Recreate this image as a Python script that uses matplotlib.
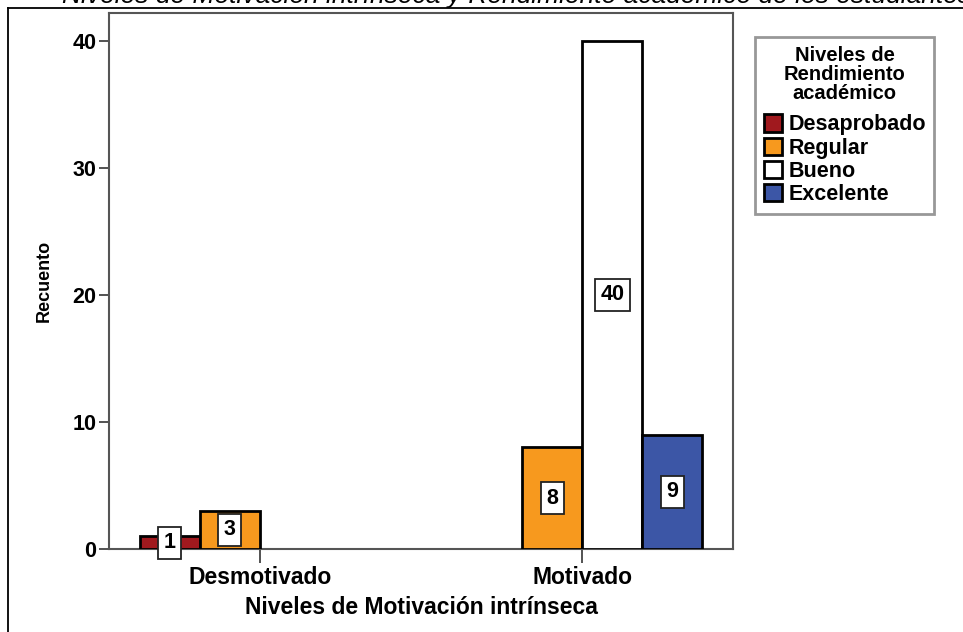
import matplotlib
matplotlib.use("Agg")
import matplotlib.pyplot as plt
from matplotlib.patches import Patch
from matplotlib.lines import Line2D
import numpy as np

# ---- data ----
categories = ["Desmotivado", "Motivado"]
series_names = ["Desaprobado", "Regular", "Bueno", "Excelente"]
desaprobado = [1, 0]
regular = [3, 8]
bueno = [0, 40]
excelente = [0, 9]
series_values = [desaprobado, regular, bueno, excelente]
series_colors = ["#a0191e", "#f7991e", "#ffffff", "#3c56a6"]
y_ticks = [0, 10, 20, 30, 40]

title_text = "Niveles de Motivación intrínseca y Rendimiento académico de los estudiantes"
x_label = "Niveles de Motivación intrínseca"
y_label = "Recuento"
legend_title = "Niveles de\nRendimiento\nacadémico"

plt.rcParams['font.family'] = ['Liberation Sans', 'DejaVu Sans']

W, H = 963, 632
fig = plt.figure(figsize=(W / 100, H / 100), dpi=100)
fig.patch.set_facecolor("white")

def px_x(x):
    return x / W

def px_y(y):
    return 1 - y / H

# axes rectangle (pixels)
L, R, T, B = 109, 733, 13, 549
ax = fig.add_axes([px_x(L), px_y(B), px_x(R) - px_x(L), px_y(T) - px_y(B)])

x = np.arange(len(categories))
bar_w = 0.186
offsets = (np.arange(len(series_names)) - (len(series_names) - 1) / 2) * bar_w

for i, (name, vals, col) in enumerate(zip(series_names, series_values, series_colors)):
    for j, v in enumerate(vals):
        if v <= 0:
            continue
        xpos = x[j] + offsets[i]
        ax.bar(xpos, v, width=bar_w, color=col, edgecolor="black",
               linewidth=2.0, zorder=3)
        ax.text(xpos, v / 2, str(v), ha="center", va="center",
                fontsize=15.5, fontweight="bold", zorder=5,
                bbox=dict(boxstyle="square,pad=0.25", facecolor="white",
                          edgecolor="#222222", linewidth=1.3),
                clip_on=False)

ax.set_xlim(-0.4675, 1.4675)
ax.set_ylim(0, 42.2)
ax.set_yticks(y_ticks)
ax.set_yticklabels([str(t) for t in y_ticks], fontsize=15.5, fontweight="bold")
ax.set_xticks(x)
ax.set_xticklabels(categories, fontsize=16.5, fontweight="bold")
ax.tick_params(axis="y", length=7, width=1.3, color="#444444", pad=2)
ax.tick_params(axis="x", length=10, width=1.3, color="#444444", pad=2)
for sp in ax.spines.values():
    sp.set_color("#555555")
    sp.set_linewidth(1.5)

ax.set_xlabel(x_label, fontsize=16.5, fontweight="bold", labelpad=5)
ax.set_ylabel(y_label, fontsize=13, fontweight="bold", labelpad=14)

# legend
handles = [Patch(facecolor=c, edgecolor="black", linewidth=2.0) for c in series_colors]
leg = fig.legend(handles, series_names, title=legend_title,
                 loc="upper left", bbox_to_anchor=(px_x(755), px_y(37)),
                 bbox_transform=fig.transFigure, borderaxespad=0,
                 frameon=True, fancybox=False, edgecolor="#7f7f7f",
                 prop=dict(size=15.5, weight="bold"),
                 title_fontproperties=dict(size=14.5, weight="bold"),
                 alignment="center",
                 handlelength=0.85, handleheight=0.85, handletextpad=0.3,
                 labelspacing=0.1, borderpad=0.4)
leg.get_title().set_multialignment("center")
leg.get_title().set_linespacing(1.0)
leg._legend_box.sep = 8.5
leg.get_frame().set_linewidth(2.0)

# outer frame lines and clipped title
fig.add_artist(Line2D([px_x(8), 1], [px_y(8), px_y(8)], color="black",
                      linewidth=1.3, transform=fig.transFigure))
fig.add_artist(Line2D([px_x(8), px_x(8)], [px_y(8), 0], color="black",
                      linewidth=1.3, transform=fig.transFigure))
fig.text(px_x(62), px_y(3.5), title_text, fontsize=19, fontstyle="italic",
         ha="left", va="baseline")

fig.savefig("out.png", dpi=100, facecolor="white")
